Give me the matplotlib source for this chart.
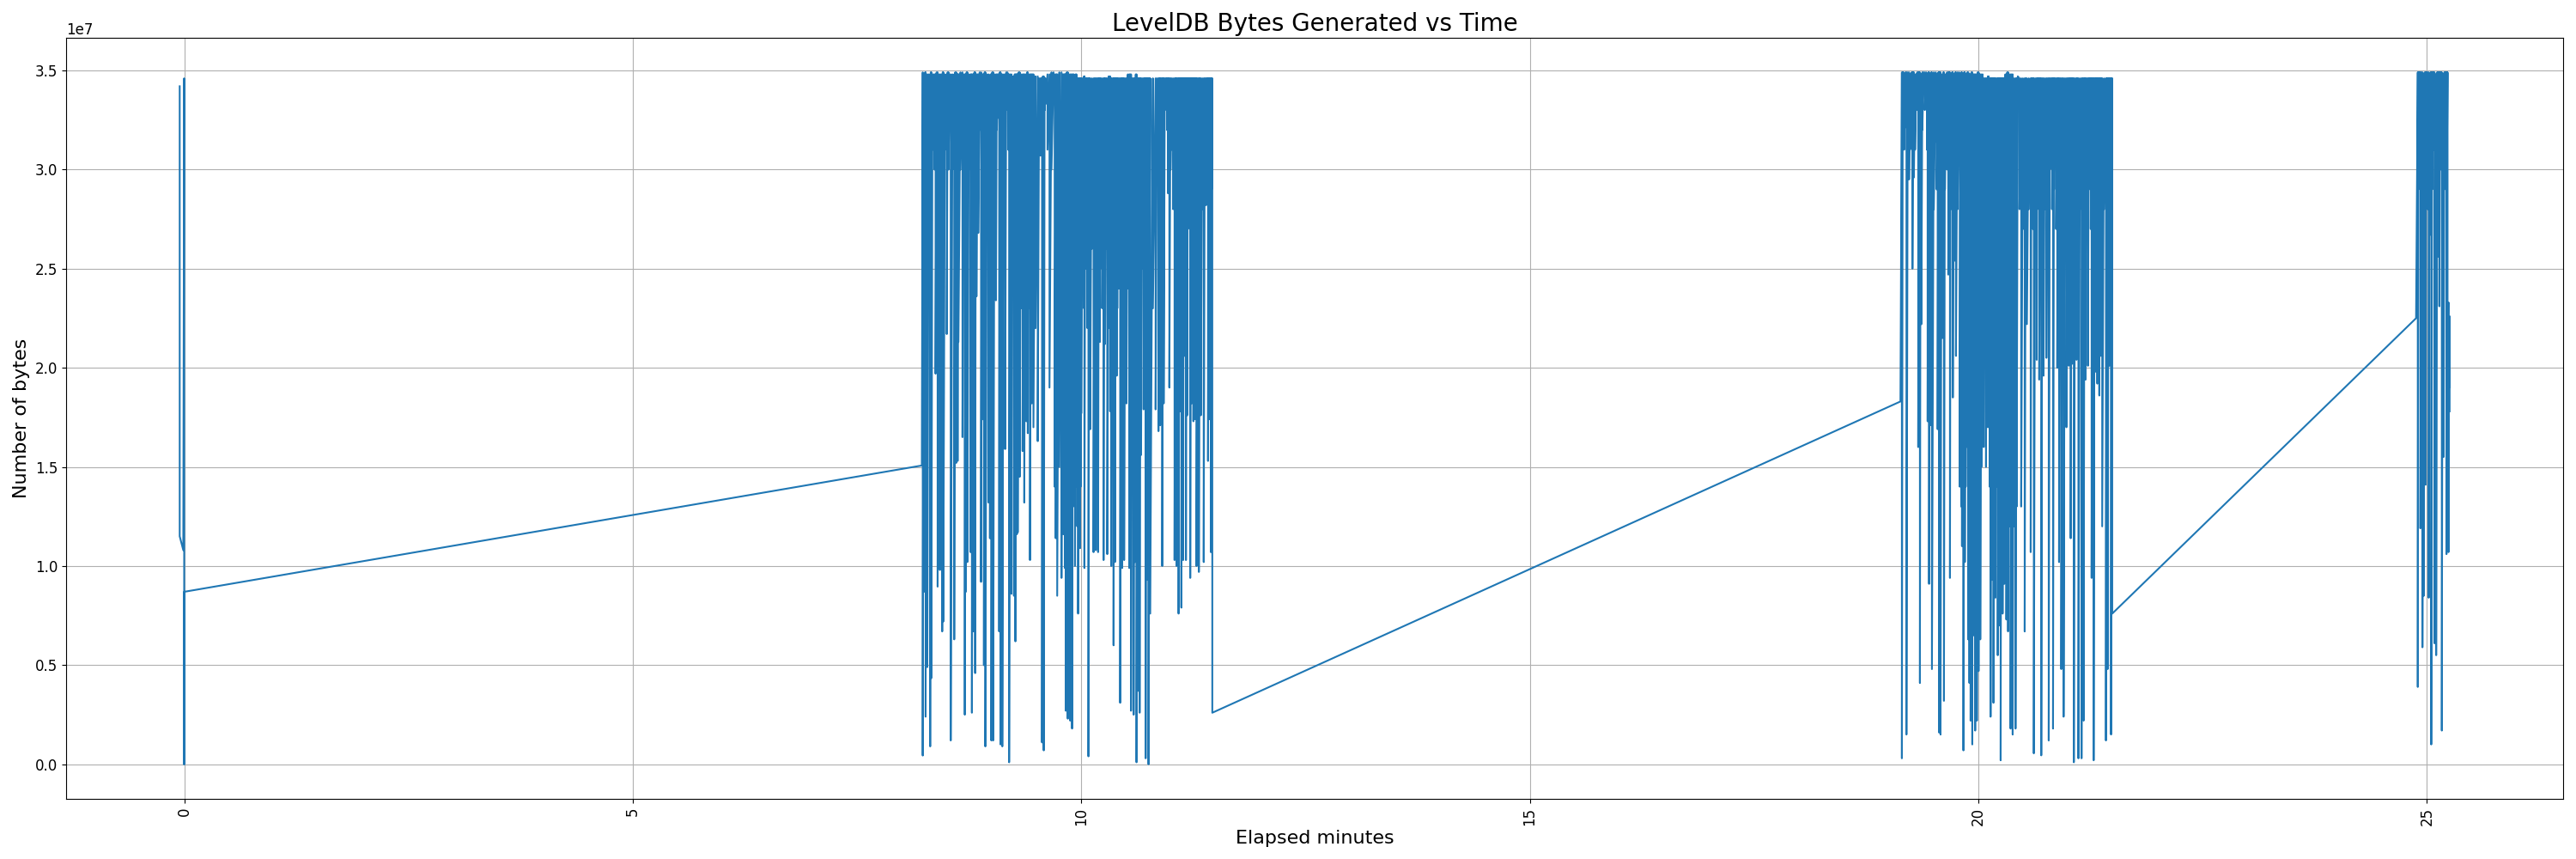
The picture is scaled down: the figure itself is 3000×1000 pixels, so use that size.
import numpy as np
import matplotlib
matplotlib.use("Agg")
import matplotlib.pyplot as plt

# values in millions of bytes, times in elapsed minutes
start_t = [-0.05, -0.05, -0.01, 0.0, 0.0, 0.0]
start_v = [34.2, 11.5, 10.8, 34.6, 0.0, 8.7]

# ---- burst 1 ----
b1_entry = (8.223, 15.07)
b1_t = [8.233, 8.255, 8.265, 8.284, 8.316, 8.329, 8.354, 8.376, 8.399, 8.424,
        8.450, 8.462, 8.501, 8.520, 8.545, 8.584, 8.606, 8.622, 8.631, 8.676,
        8.702, 8.714, 8.730, 8.766, 8.781, 8.801, 8.817, 8.832, 8.852, 8.883,
        8.903, 8.915, 8.931, 8.967, 8.982, 8.998, 9.018, 9.049, 9.069, 9.085,
        9.100, 9.120, 9.151, 9.177, 9.196, 9.222, 9.250, 9.266, 9.282,
        9.292, 9.314, 9.346, 9.365, 9.388, 9.404, 9.429, 9.448, 9.467, 9.515,
        9.547, 9.563, 9.582, 9.601, 9.646, 9.691, 9.716, 9.732, 9.780, 9.802,
        9.818, 9.828, 9.850, 9.876, 9.898, 9.917, 9.930, 9.946, 9.965, 9.987,
        10.000, 10.026, 10.035, 10.057, 10.080, 10.099, 10.137, 10.163, 10.188, 10.207,
        10.217, 10.249, 10.265, 10.290, 10.322, 10.335, 10.360, 10.376,
        10.396, 10.408, 10.434, 10.456, 10.478, 10.504, 10.536, 10.555, 10.584, 10.600,
        10.616, 10.638, 10.651, 10.667, 10.695, 10.718, 10.734, 10.750, 10.769, 10.829,
        10.861, 10.880, 10.903, 10.919, 10.944, 10.967, 10.982, 11.008, 11.040, 11.062,
        11.085, 11.104, 11.116, 11.136, 11.151, 11.167, 11.180, 11.199, 11.215, 11.231,
        11.250, 11.270, 11.285, 11.311, 11.333, 11.365, 11.391, 11.413, 11.432, 11.445,
        11.461]
b1_low = [0.44, 8.7, 2.4, 4.9, 0.9, 4.35, 33.0, 19.7, 8.96, 9.8,
          6.7, 7.2, 21.7, 30.0, 1.2, 6.3, 15.2, 15.3, 21.3, 16.5,
          2.5, 8.7, 10.2, 10.7, 2.6, 6.7, 4.6, 23.6, 26.8, 9.2,
          17.4, 5.0, 0.9, 13.2, 11.4, 1.2, 1.2, 23.4, 32.6, 6.7,
          1.0, 0.9, 15.9, 33.6, 0.1, 8.6, 8.5, 6.2, 11.6,
          11.7, 14.5, 15.8, 13.2, 17.3, 16.7, 10.3, 18.2, 17.0, 16.3,
          30.7, 1.1, 0.7, 33.3, 19.0, 34.2, 11.4, 8.5, 9.4, 11.6,
          9.9, 2.7, 2.3, 2.2, 1.8, 19.0, 10.0, 17.0, 7.6, 10.9,
          17.7, 26.9, 9.9, 26.4, 0.4, 16.9, 10.7, 10.8, 10.7, 21.3,
          28.7, 10.3, 21.2, 10.6, 17.8, 10.0, 6.0, 10.2,
          19.6, 25.9, 3.1, 9.9, 10.3, 18.2, 9.9, 2.7, 2.5, 10.2,
          0.1, 3.7, 2.6, 15.6, 17.9, 0.3, 9.3, 0.0, 7.6, 17.9,
          16.8, 17.1, 10.0, 18.2, 33.3, 28.8, 19.0, 31.0, 10.3, 10.0,
          7.6, 17.8, 7.9, 10.3, 20.6, 10.3, 17.6, 27.9, 9.4, 18.2,
          17.3, 17.4, 10.0, 9.7, 17.6, 10.2, 28.2, 15.3, 17.4, 10.7,
          2.6]
b1_peak = [34.9, 34.8, 34.9, 34.8, 34.8, 34.9, 34.8, 34.8, 34.9, 34.8,
           34.8, 34.9, 34.8, 34.9, 34.8, 34.8, 34.9, 34.8, 34.8, 34.9,
           34.8, 34.8, 34.9, 34.8, 34.8, 34.8, 34.9, 34.8, 34.8, 34.9,
           34.8, 34.8, 34.9, 34.8, 34.7, 34.8, 34.9, 34.8, 34.8, 34.8,
           34.9, 34.8, 34.8, 34.9, 34.8, 34.8, 34.7, 34.8, 34.8,
           34.8, 34.9, 34.8, 34.8, 34.8, 34.9, 34.8, 34.8, 34.8, 34.7,
           34.6, 34.6, 34.7, 34.6, 34.8, 34.9, 34.8, 34.8, 34.9, 34.8,
           34.8, 34.8, 34.9, 34.8, 34.8, 34.8, 34.7, 34.8, 34.6, 34.6,
           34.6, 34.6, 34.7, 34.6, 34.6, 34.6, 34.6, 34.6, 34.6, 34.6,
           34.6, 34.6, 34.6, 34.6, 34.7, 34.6, 34.6, 34.6,
           34.6, 34.6, 34.6, 34.6, 34.6, 34.6, 34.8, 34.8, 34.6, 34.6,
           34.8, 34.6, 34.6, 34.6, 34.6, 34.6, 34.6, 34.6, 34.6, 34.6,
           34.6, 34.6, 34.6, 34.6, 34.6, 34.6, 34.6, 34.6, 34.6, 34.6,
           34.6, 34.6, 34.6, 34.6, 34.6, 34.6, 34.6, 34.6, 34.6, 34.6,
           34.6, 34.6, 34.6, 34.6, 34.6, 34.6, 34.6, 34.6, 34.6, 34.6,
           34.6]
# shallow dips between consecutive deep spikes (the dense upper band)
b1_dip = [30, 29, 31, 30, 28, 31, 30, 29, 31, 30,
          29, 31, 30, 32, 30, 31, 29, 31, 30, 32,
          31, 32, 30, 33, 31, 32, 31, 33, 32, 31,
          33, 32, 31, 33, 32, 33, 31, 32, 33, 32,
          33, 32, 33, 31, 32, 33, 32, 31, 24,
          22, 23, 21, 24, 22, 23, 21, 24, 22,
          31, 32, 30, 33, 31, 30,
          14, 13, 15, 12, 14, 13, 15, 14, 12, 15, 13, 14, 12, 15, 14,
          24, 23, 25, 22, 24, 26, 23, 24, 22, 25, 23, 24, 26, 22, 24, 23, 25, 23,
          23, 24, 22, 25, 23, 24, 22, 24, 23, 25, 22, 24, 23, 25, 24, 23, 22, 24, 23,
          31, 32, 30, 31, 33, 32, 31, 30,
          28, 27, 29, 28, 30, 27, 29, 28, 30, 27, 29, 28, 27, 30, 28, 29, 27, 28, 30, 29,
          28, 27, 29]

# ---- burst 2 ----
b2_entry = (19.132, 18.3)
b2_t = [19.148, 19.167, 19.180, 19.199, 19.228, 19.250, 19.266, 19.282, 19.308, 19.330,
        19.349, 19.365, 19.388, 19.419, 19.435, 19.451, 19.467, 19.483, 19.525, 19.547,
        19.563, 19.579, 19.601, 19.617, 19.639, 19.665, 19.684, 19.700, 19.716, 19.735,
        19.751, 19.786, 19.802, 19.818, 19.834, 19.850, 19.869, 19.888, 19.901, 19.914,
        19.933, 19.946, 19.965, 19.984, 20.003, 20.022, 20.048, 20.073, 20.099, 20.115,
        20.137, 20.153, 20.169, 20.191, 20.217, 20.233, 20.249, 20.271, 20.290,
        20.313, 20.332, 20.360, 20.383, 20.415, 20.440, 20.478, 20.517, 20.542, 20.584,
        20.600, 20.619, 20.651, 20.663, 20.679, 20.702, 20.727, 20.759, 20.785, 20.810,
        20.833, 20.855, 20.880, 20.900, 20.925, 20.951, 20.982, 21.008, 21.030, 21.046,
        21.065, 21.094, 21.116, 21.151, 21.174, 21.196, 21.222, 21.244, 21.263, 21.286,
        21.308, 21.327, 21.349, 21.365, 21.381, 21.423, 21.442, 21.461, 21.480, 21.493]
b2_low = [0.3, 32.8, 32.1, 1.5, 29.5, 31.1, 25.0, 29.6, 33.5, 16.0,
          4.1, 22.2, 34.1, 33.2, 17.3, 9.1, 17.1, 4.8, 31.4, 16.9,
          1.6, 1.5, 21.5, 3.2, 31.5, 24.7, 9.4, 30.6, 18.5, 25.4,
          20.6, 33.6, 17.5, 11.0, 0.7, 10.2, 24.1, 6.3, 4.1, 2.2,
          1.0, 6.5, 1.7, 2.2, 4.7, 6.3, 32.0, 34.4, 20.0, 29.0,
          2.4, 9.3, 3.1, 8.4, 5.5, 7.0, 0.2, 7.6, 9.1,
          7.3, 6.7, 1.8, 1.5, 1.8, 34.7, 13.0, 6.7, 22.2, 10.7,
          30.2, 0.55, 20.4, 29.8, 19.4, 0.45, 19.6, 20.5, 1.2, 32.5,
          1.8, 32.2, 20.0, 10.2, 4.8, 2.4, 17.0, 20.1, 11.4, 20.2,
          0.1, 20.4, 0.3, 0.3, 2.2, 19.4, 20.1, 30.2, 9.4, 0.2,
          19.8, 19.2, 18.6, 20.6, 12.0, 1.2, 4.8, 20.1, 1.5, 7.6]
b2_peak = [34.9, 34.9, 34.8, 34.9, 34.9, 34.8, 34.9, 34.9, 34.8, 34.9,
           34.9, 34.8, 34.9, 34.9, 34.8, 34.9, 34.8, 34.9, 34.9, 34.8,
           34.9, 34.9, 34.8, 34.9, 34.8, 34.9, 34.9, 34.8, 34.9, 34.8,
           34.9, 34.9, 34.8, 34.9, 34.8, 34.9, 34.8, 34.9, 34.8, 34.8,
           34.9, 34.8, 34.8, 34.8, 34.9, 34.8, 34.8, 34.6, 34.6, 34.7,
           34.6, 34.6, 34.6, 34.6, 34.6, 34.6, 34.6, 34.6, 34.6,
           34.8, 34.9, 34.8, 34.8, 34.6, 34.6, 34.6, 34.6, 34.6, 34.6,
           34.6, 34.6, 34.6, 34.6, 34.6, 34.6, 34.6, 34.6, 34.6, 34.6,
           34.6, 34.6, 34.6, 34.6, 34.6, 34.6, 34.6, 34.6, 34.6, 34.6,
           34.6, 34.6, 34.6, 34.6, 34.6, 34.6, 34.6, 34.6, 34.6, 34.6,
           34.6, 34.6, 34.6, 34.6, 34.6, 34.6, 34.6, 34.6, 34.6, 34.6]
b2_dip = [32, 31, 33, 32, 31, 33, 32, 31, 33, 32, 31, 32, 33, 31,
          29, 28, 30, 28, 29, 28, 30, 29, 28, 29, 30, 29, 28, 28, 29, 30, 28,
          14, 13, 15, 12, 14, 16, 13, 14, 12, 15, 13, 14, 16, 13, 15,
          16, 15, 17, 14, 16, 15, 13, 14, 16, 15, 14, 13, 15,
          13, 12, 14, 12, 13,
          28, 27, 29, 28, 30, 27, 29, 28, 30, 27,
          29, 28, 27, 30, 28, 29, 27, 28, 30, 29,
          28, 27, 29, 28, 30, 27, 29, 28, 27, 30,
          28, 29, 27, 28, 30, 29, 28, 27, 29, 28,
          30, 27, 29, 28]

# ---- burst 3 ----
b3_entry = (24.880, 22.5)
b3_t = [24.899, 24.912, 24.928, 24.951, 24.966, 24.986, 24.998, 25.021, 25.033, 25.049,
        25.069, 25.085, 25.104, 25.123, 25.139, 25.152, 25.167, 25.187, 25.203, 25.219,
        25.231, 25.241, 25.254]
b3_low = [3.9, 30.6, 11.9, 5.9, 8.5, 14.1, 31.7, 8.4, 26.7, 1.0,
          32.8, 6.1, 5.5, 25.6, 23.1, 32.8, 1.7, 15.5, 30.0, 10.6,
          23.3, 10.7, 17.8]
b3_peak = [34.9, 34.9, 34.9, 34.9, 34.8, 34.9, 34.9, 34.9, 34.8, 34.9,
           34.9, 34.9, 34.8, 34.9, 34.9, 34.9, 34.9, 34.8, 34.9, 34.9,
           34.9, 23.3, 22.6]
b3_dip = [29, 30, 28, 31, 29, 30, 28, 31, 30, 29,
          31, 28, 30, 29, 31, 30, 28, 30, 29, 31,
          20, 19]

SCALE = 1e6

xs = list(start_t)
ys = list(start_v)
for entry, ts, lows, peaks, dips in [(b1_entry, b1_t, b1_low, b1_peak, b1_dip),
                                     (b2_entry, b2_t, b2_low, b2_peak, b2_dip),
                                     (b3_entry, b3_t, b3_low, b3_peak, b3_dip)]:
    xs.append(entry[0]); ys.append(entry[1])
    n = len(ts)
    for i in range(n):
        xs.extend([ts[i], ts[i]]); ys.extend([peaks[i], lows[i]])
        if i < n - 1:
            tm = 0.5 * (ts[i] + ts[i + 1])
            xs.extend([tm, tm]); ys.extend([peaks[i + 1], dips[i]])

xs = np.array(xs)
ys = np.array(ys) * SCALE

fig, ax = plt.subplots(figsize=(30, 10), dpi=100)
ax.plot(xs, ys, color="#1f77b4", linewidth=1.5)
ax.set_title("LevelDB Bytes Generated vs Time", fontsize=20)
ax.set_xlabel("Elapsed minutes", fontsize=16)
ax.set_ylabel("Number of bytes", fontsize=16)
ax.tick_params(labelsize=12)
ax.yaxis.get_offset_text().set_fontsize(12)
ax.grid(True)
plt.setp(ax.get_xticklabels(), rotation=90)
fig.subplots_adjust(left=0.0257, right=0.995, top=0.956, bottom=0.070)
fig.savefig("out.png", dpi=100)
